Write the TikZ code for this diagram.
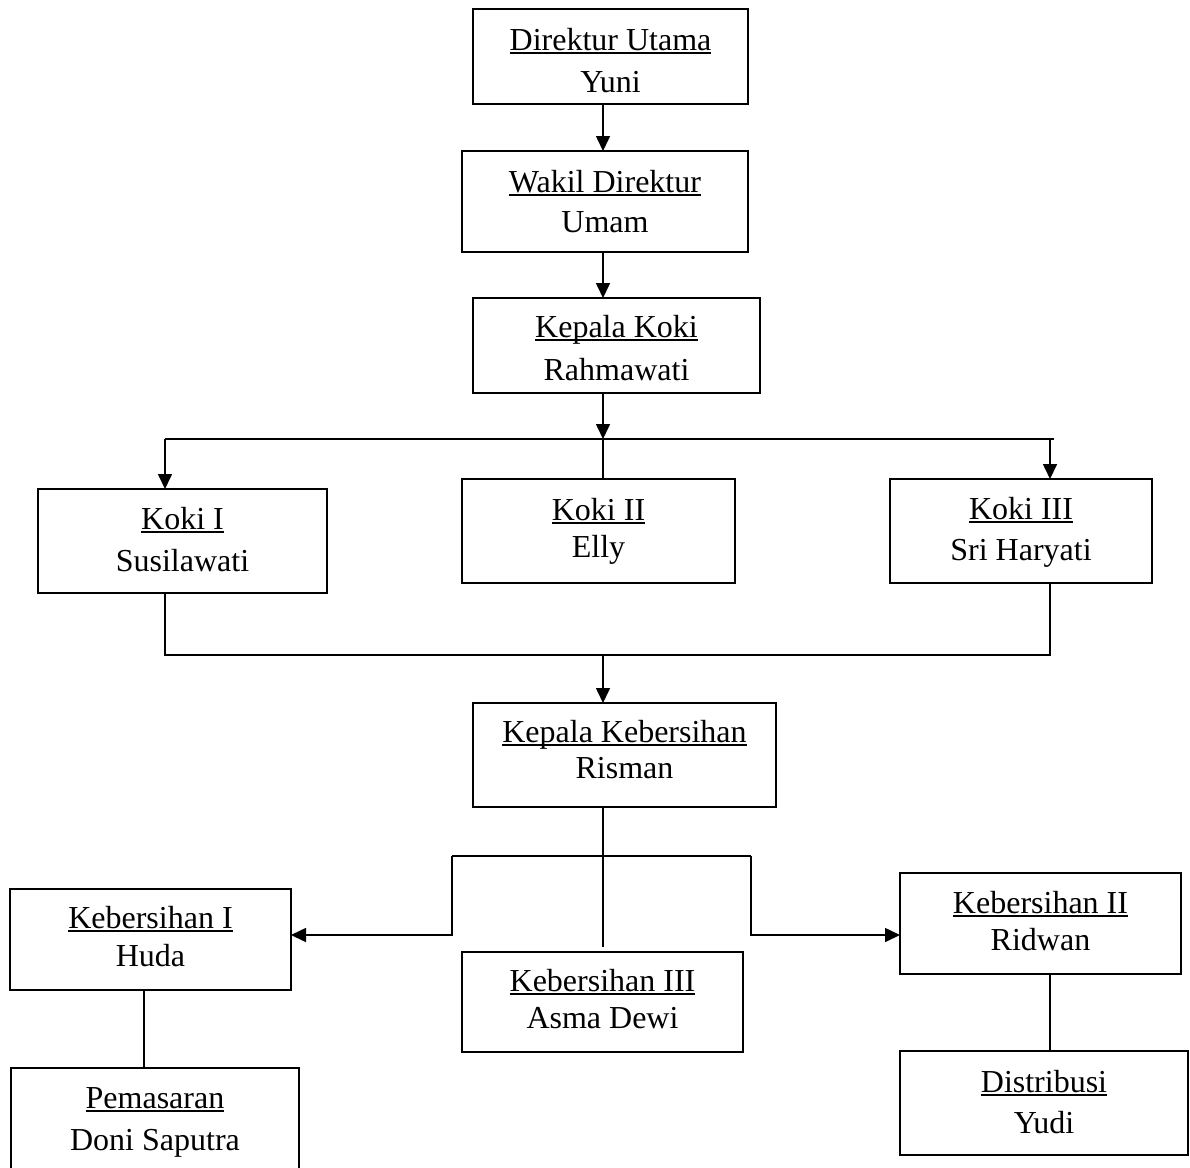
\documentclass[tikz,border=0pt]{standalone}
\usepackage{fontspec}
\setmainfont{Liberation Serif}
\usetikzlibrary{arrows.meta}
\newcommand\ulx[1]{\setbox0=\hbox{#1}\rlap{\rule[-3.6pt]{\wd0}{1.6pt}}\box0}
\newcommand\orgunit[9]{%
  \node[orgbox, minimum width={#4-#2}, minimum height={#5-#3}] (#1) at ({(#2+#4)/2},{(#3+#5)/2}) {};
  \node[txt] (#1t) at ({(#2+#4)/2},#8) {\ulx{#6}};
  \node[txt] (#1p) at ({(#2+#4)/2},#9) {#7};
}
\begin{document}
\begin{tikzpicture}[x=1pt,y=-1pt,
  orgbox/.style={draw, line width=1.6pt, inner sep=0pt, outer sep=0pt},
  txt/.style={anchor=base, inner sep=0pt, font=\fontsize{32}{38}\selectfont},
  conn/.style={line width=1.6pt},
  arr/.style={conn, -{Triangle[width=14pt,length=15pt]}}]
\useasboundingbox (0,0) rectangle (1190,1167);
\clip (0,0) rectangle (1190,1167);
\fill[white] (0,0) rectangle (1190,1167);

\orgunit{dir}{473}{9}{748}{104}{Direktur Utama}{Yuni}{50}{92}
\orgunit{wak}{462}{151}{748}{252}{Wakil Direktur}{Umam}{192}{232}
\orgunit{kk}{473}{298}{760}{393}{Kepala Koki}{Rahmawati}{337}{380}
\orgunit{ka}{38}{489}{327}{593}{Koki I}{Susilawati}{529}{571}
\orgunit{kb}{462}{479}{735}{583}{Koki II}{Elly}{520}{557}
\orgunit{kc}{890}{479}{1152}{583}{Koki III}{Sri Haryati}{519}{560}
\orgunit{kkb}{473}{703}{776}{807}{Kepala Kebersihan}{Risman}{742}{778}
\orgunit{kba}{10}{889}{291}{990}{Kebersihan I}{Huda}{928}{966}
\orgunit{kbc}{462}{952}{743}{1052}{Kebersihan III}{Asma Dewi}{991}{1028}
\orgunit{kbb}{900}{873}{1181}{974}{Kebersihan II}{Ridwan}{913}{950}
\orgunit{pem}{11}{1068}{299}{1200}{Pemasaran}{Doni Saputra}{1108}{1150}
\orgunit{dis}{900}{1051}{1188}{1155}{Distribusi}{Yudi}{1092}{1133}

% junction coordinates
\coordinate (spine) at (603,0);
\coordinate (topL) at (165,439);
\coordinate (topM) at (603,439);
\coordinate (topR) at (1050,439);
\coordinate (topRe) at (1054,439);
\coordinate (botL) at (165,655);
\coordinate (botM) at (603,655);
\coordinate (botR) at (1050,655);
\coordinate (brL) at (452,856);
\coordinate (brM) at (603,856);
\coordinate (brR) at (751,856);
\coordinate (elL) at (452,935);
\coordinate (elR) at (751,935);
\coordinate (colL) at (144,0);
\coordinate (colR) at (1050,0);

\draw[arr] (dir.south -| spine) -- (wak.north -| spine);
\draw[arr] (wak.south -| spine) -- (kk.north -| spine);
\draw[arr] (kk.south -| spine) -- (topM);
\draw[conn] (topL) -- (topRe);
\draw[arr] (topL) -- (ka.north -| topL);
\draw[conn] (topM) -- (kb.north -| topM);
\draw[arr] (topR) -- (kc.north -| topR);
\draw[conn] (ka.south -| botL) -- (botL) -- (botR) -- (kc.south -| botR);
\draw[arr] (botM) -- (kkb.north -| botM);
\draw[conn, shorten >=5pt] (kkb.south -| spine) -- (kbc.north -| spine);
\draw[conn] (brL) -- (brR);
\draw[arr] (brL) -- (elL) -- (kba.east |- elL);
\draw[arr] (brR) -- (elR) -- (kbb.west |- elR);
\draw[conn] (kba.south -| colL) -- (pem.north -| colL);
\draw[conn] (kbb.south -| colR) -- (dis.north -| colR);
\end{tikzpicture}
\end{document}
